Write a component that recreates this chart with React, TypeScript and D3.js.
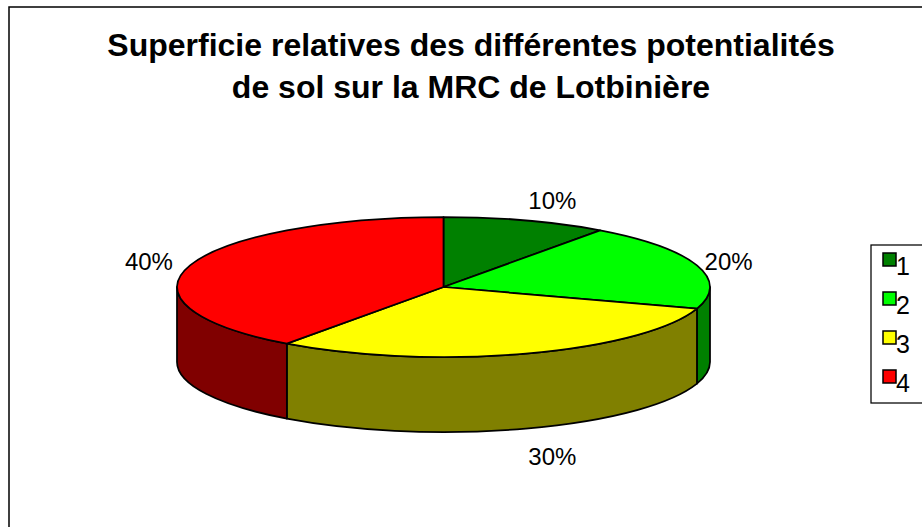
import React from 'react';
import * as d3 from 'd3';

// Chart data
const categories = ['1', '2', '3', '4'];
const shares = [10, 20, 30, 40];
const topColors = ['#008000', '#00FF00', '#FFFF00', '#FF0000'];
const sideColors = ['#004000', '#008000', '#808000', '#800000'];
const titleLines = [
  'Superficie relatives des différentes potentialités',
  'de sol sur la MRC de Lotbinière',
];

const W = 922;
const H = 527;
const FONT = 'Arial, "Liberation Sans", sans-serif';

// 3D pie geometry
const cx = 443.5;
const cy = 287;
const rx = 266.5;
const ry = 70;
const depth = 75;

const pt = (a: number, dy = 0): [number, number] => [cx + rx * Math.sin(a), cy - ry * Math.cos(a) + dy];

export default function App() {
  const total = d3.sum(shares);
  const arcs = d3.pie<number>().sort(null).value((d) => d)(shares);

  const topPath = (a: number, b: number) => {
    const [x0, y0] = pt(a);
    const [x1, y1] = pt(b);
    const large = b - a > Math.PI ? 1 : 0;
    return `M${cx},${cy}L${x0},${y0}A${rx},${ry} 0 ${large} 1 ${x1},${y1}Z`;
  };

  const sidePath = (a: number, b: number) => {
    const s = Math.max(a, Math.PI / 2);
    const e = Math.min(b, (3 * Math.PI) / 2);
    if (e <= s) return null;
    const large = e - s > Math.PI ? 1 : 0;
    const [x0, y0] = pt(s);
    const [x1, y1] = pt(e);
    const [x2, y2] = pt(e, depth);
    const [x3, y3] = pt(s, depth);
    return `M${x0},${y0}A${rx},${ry} 0 ${large} 1 ${x1},${y1}L${x2},${y2}A${rx},${ry} 0 ${large} 0 ${x3},${y3}Z`;
  };

  const pct = d3.format('.0%');

  // legend rows
  const legendY = d3.scaleLinear().domain([0, 1]).range([253, 292]);

  return (
    <svg width={W} height={H} style={{ position: 'absolute', left: 0, top: 0, background: '#fff' }}>
      <rect x={9} y={7} width={W} height={H} fill="#fff" stroke="#000" strokeWidth={1.5} />

      {titleLines.map((t, i) => (
        <text key={i} x={471} y={56 + i * 42} textAnchor="middle" fontFamily={FONT}
          fontWeight="bold" fontSize={32} fill="#000">{t}</text>
      ))}

      {/* side walls */}
      {arcs.map((d, i) => {
        const p = sidePath(d.startAngle, d.endAngle);
        return p ? <path key={'s' + i} d={p} fill={sideColors[i]} stroke="#000" strokeWidth={1.75} strokeLinejoin="round" /> : null;
      })}
      {/* top faces */}
      {arcs.map((d, i) => (
        <path key={'t' + i} d={topPath(d.startAngle, d.endAngle)} fill={topColors[i]}
          stroke="#000" strokeWidth={1.75} strokeLinejoin="round" />
      ))}

      {/* data labels */}
      {arcs.map((d, i) => {
        const m = (d.startAngle + d.endAngle) / 2;
        const s = Math.sin(m);
        const c = Math.cos(m);
        const x = cx + (rx + (s >= 0 ? 8 : 18)) * s;
        const y = cy + 4 - (ry + 25) * c + (c < 0 ? depth : 0);
        return (
          <text key={'l' + i} x={x} y={y} dy="0.36em" textAnchor={s >= 0 ? 'start' : 'end'}
            fontFamily={FONT} fontSize={24} fill="#000">{pct(d.data / total)}</text>
        );
      })}

      {/* legend */}
      <rect x={871} y={245} width={100} height={158} fill="#fff" stroke="#000" strokeWidth={1.25} />
      {categories.map((c, i) => (
        <g key={c}>
          <rect x={883} y={legendY(i)} width={13} height={13} fill={topColors[i]} stroke="#000" strokeWidth={1.5} />
          <text x={896} y={legendY(i) + 22} fontFamily={FONT} fontSize={25} fill="#000">{c}</text>
        </g>
      ))}
    </svg>
  );
}
